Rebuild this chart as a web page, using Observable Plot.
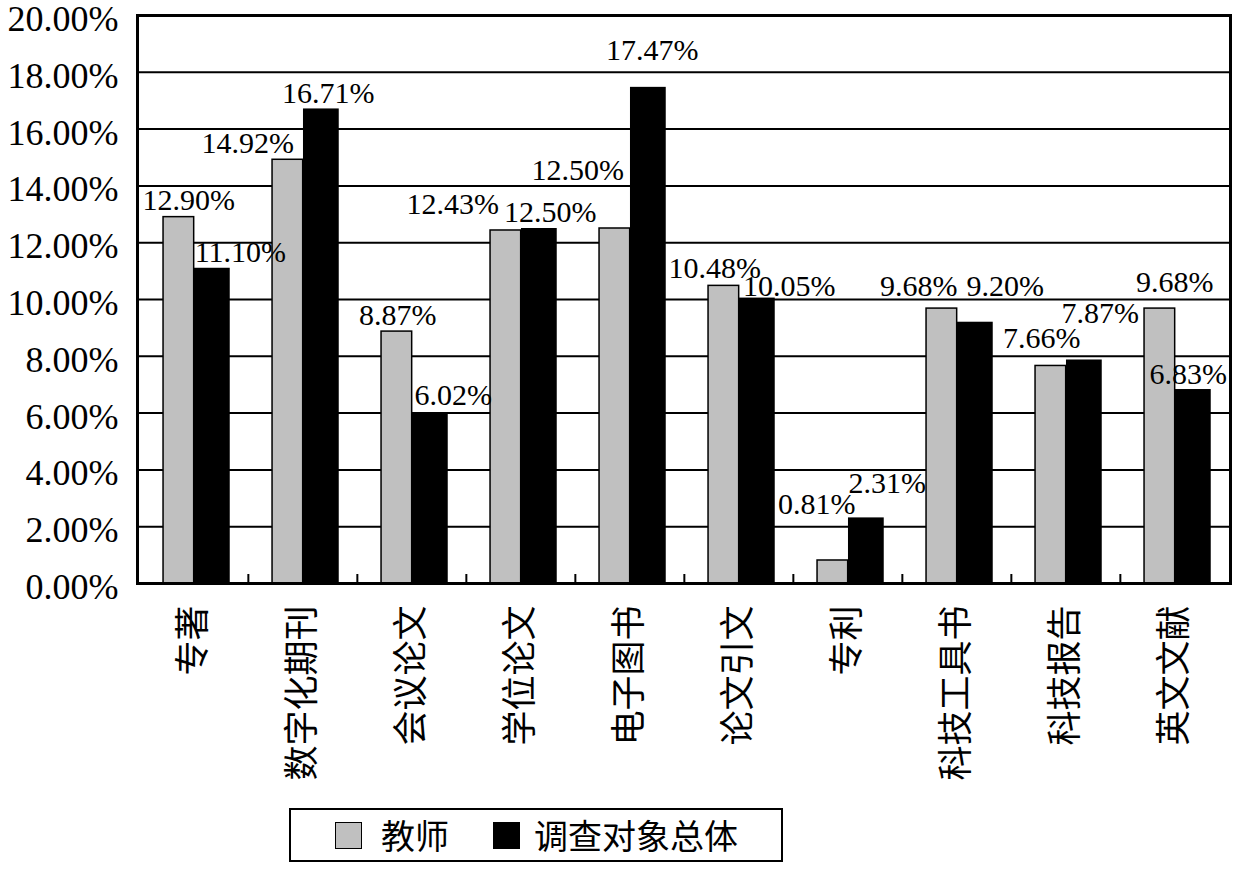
<!DOCTYPE html>
<html>
<head>
<meta charset="utf-8">
<script src="https://cdn.jsdelivr.net/npm/d3@7"></script>
<script src="https://cdn.jsdelivr.net/npm/@observablehq/plot@0.6"></script>
<style>
  body { margin: 0; background: #fff; }
  #wrap { position: relative; width: 1240px; height: 869px; overflow: hidden; }
  #legend { position: absolute; left: 289px; top: 808px; width: 490px; height: 50px;
            border: 2px solid #000; background: #fff; font-family: "Noto Sans CJK SC"; font-size: 34px; color: #000; }
  #legend .sw { position: absolute; top: 12px; width: 25px; height: 25px; border: 1.5px solid #000; }
  #legend .lb { position: absolute; top: 0; line-height: 50px; white-space: nowrap; }
</style>
</head>
<body>
<div id="wrap">
  <div id="chart"></div>
  <div id="legend"></div>
</div>
<script>
// ---- data ----
const categories = ["专著", "数字化期刊", "会议论文", "学位论文", "电子图书", "论文引文", "专利", "科技工具书", "科技报告", "英文文献"];
const seriesNames = ["教师", "调查对象总体"];
const teacher = [12.90, 14.92, 8.87, 12.43, 12.50, 10.48, 0.81, 9.68, 7.66, 9.68];
const overall = [11.10, 16.71, 6.02, 12.50, 17.47, 10.05, 2.31, 9.20, 7.87, 6.83];
const yTicks = [0, 2, 4, 6, 8, 10, 12, 14, 16, 18, 20];
// label nudges (pixels) relative to each bar's top centre, as placed in the original
const teacherLabelDx = [10, -40, 1, -53, -37, -9, -16, -23, -9, 15];
const teacherLabelDy = [-17, -16, -16, -26, -58, -17, -56, -22, -28, -26];
const overallLabelDx = [28, 7, 23, 11, 4, 32, 21, 30, 16, -5];
const overallLabelDy = [-16, -16, -17, -16, -37, -12, -35, -36, -47, -15];

// ---- layout ----
const W = 1240, H = 800, mL = 137, mR = 10, mT = 15, mB = 217;
const bw = (W - mL - mR) / categories.length;
const plotH = H - mT - mB;
const gL = 0.22, gR = 0.503, kR = 0.833;   // fractions of band
const grayOff = ((gL + gR) / 2 - 0.5) * bw;
const blackOff = ((gR + kR) / 2 - 0.5) * bw;

const rows = [];
categories.forEach((c, i) => {
  rows.push({cat: c, s: seriesNames[0], v: teacher[i], dx: grayOff + teacherLabelDx[i], dy: teacherLabelDy[i]});
  rows.push({cat: c, s: seriesNames[1], v: overall[i], dx: blackOff + overallLabelDx[i], dy: overallLabelDy[i]});
});
const grayRows = rows.filter(d => d.s === seriesNames[0]);
const blackRows = rows.filter(d => d.s === seriesNames[1]);
const fmt = v => v.toFixed(2) + "%";
const serif = "Liberation Serif";
const cjk = "Noto Sans CJK SC";

const labelMarks = rows.map(d => Plot.text([d], {
  x: "cat", y: "v", text: r => fmt(r.v), dx: d.dx, dy: d.dy,
  fontSize: 30, fontFamily: serif, fill: "#000", textAnchor: "middle", lineAnchor: "middle"
}));

const chart = Plot.plot({
  width: W, height: H,
  marginLeft: mL, marginRight: mR, marginTop: mT, marginBottom: mB,
  style: {background: "#fff", color: "#000", fontFamily: serif},
  x: {domain: categories, padding: 0},
  y: {domain: [0, 20]},
  marks: [
    Plot.gridY(yTicks, {stroke: "#000", strokeOpacity: 1, strokeWidth: 2}),
    Plot.barY(grayRows, {x: "cat", y: "v", fill: "#c0c0c0", stroke: "#000", strokeWidth: 1.5,
      insetLeft: gL * bw, insetRight: (1 - gR) * bw}),
    Plot.barY(blackRows, {x: "cat", y: "v", fill: "#000",
      insetLeft: gR * bw, insetRight: (1 - kR) * bw}),
    Plot.ruleX(categories.slice(1), {x: d => d, dx: -bw / 2, stroke: "#000", strokeWidth: 2,
      insetTop: plotH - 9}),
    Plot.frame({stroke: "#000", strokeWidth: 3}),
    ...labelMarks,
    Plot.axisY({ticks: yTicks, tickSize: 0, tickPadding: 19, tickFormat: fmt, dy: 4,
      fontSize: 36, fontFamily: serif, fill: "#000", label: null}),
    Plot.axisX({tickRotate: -90, tickSize: 0, tickPadding: 22,
      fontSize: 35, fontFamily: cjk, fill: "#000", label: null})
  ]
});
document.getElementById("chart").appendChild(chart);

// ---- legend ----
const legend = document.getElementById("legend");
const legendItems = [
  {name: seriesNames[0], color: "#c0c0c0", sw: 44, lb: 90},
  {name: seriesNames[1], color: "#000", sw: 202, lb: 243}
];
legendItems.forEach(it => {
  const sw = document.createElement("div");
  sw.className = "sw"; sw.style.left = it.sw + "px"; sw.style.background = it.color;
  const lb = document.createElement("div");
  lb.className = "lb"; lb.style.left = it.lb + "px"; lb.textContent = it.name;
  legend.appendChild(sw); legend.appendChild(lb);
});
</script>
</body>
</html>
